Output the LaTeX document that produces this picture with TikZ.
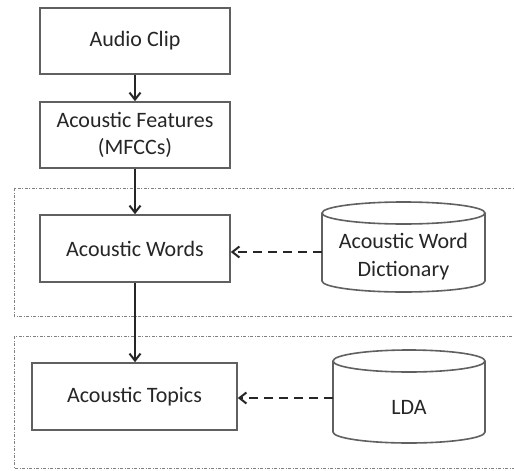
\documentclass[tikz,border=0pt]{standalone}
\usepackage{fontspec}
\setmainfont{Carlito}
\usetikzlibrary{arrows.meta}
\definecolor{boxline}{HTML}{606060}
\definecolor{txt}{HTML}{262626}
\definecolor{frameline}{HTML}{808080}
\tikzset{
  procbox/.style={draw=boxline, line width=1.6pt, fill=white, rectangle,
    text=txt, align=center, inner sep=0pt,
    font=\fontsize{22}{27}\selectfont},
  cyltext/.style={text=txt, align=center, inner sep=0pt,
    font=\fontsize{22}{28}\selectfont},
  cylline/.style={draw=boxline, line width=1.6pt},
  flow/.style={draw=black!85, line width=2pt, -{Straight Barb[length=7pt,width=11pt,line width=2pt]}},
  dflow/.style={draw=black!85, line width=2pt, dash pattern=on 9pt off 6pt,
    -{Straight Barb[length=7pt,width=11pt,line width=2pt]}},
  groupframe/.style={draw=frameline, line width=1pt,
    dash pattern=on 3pt off 1.5pt on 1pt off 1.5pt}
}
\begin{document}
\begin{tikzpicture}[x=1pt,y=1pt]
\clip (0,0) rectangle (514,-471);
\fill[white] (0,0) rectangle (514,-471);
% group frames
\draw[groupframe] (14,-188) rectangle (530,-316);
\draw[groupframe] (14,-336) rectangle (530,-468);
% process boxes
\node[procbox, minimum width=190pt, minimum height=66pt] (audio) at (135,-41) {Audio Clip};
\node[procbox, minimum width=190pt, minimum height=66pt] (feat) at (135,-135) {Acoustic Features\\(MFCCs)};
\node[procbox, minimum width=190pt, minimum height=67pt] (words) at (135,-248.5) {Acoustic Words};
\node[procbox, minimum width=205pt, minimum height=67pt] (topics) at (134.5,-396.5) {Acoustic Topics};
% cylinder 1: dictionary
\draw[cylline] (322,-213) -- (322,-281)
  arc[start angle=180, end angle=360, x radius=81.5pt, y radius=11pt]
  -- (485,-213);
\draw[cylline] (403.5,-213) ellipse[x radius=81.5pt, y radius=11pt];
\node[inner sep=0pt, minimum width=163pt, minimum height=68pt] (dict) at (403.5,-247) {};
\node[cyltext] (dicttext) at (403.5,-257) {Acoustic Word\\Dictionary};
% cylinder 2: LDA
\draw[cylline] (333,-361) -- (333,-432)
  arc[start angle=180, end angle=360, x radius=76pt, y radius=11pt]
  -- (485,-361);
\draw[cylline] (409,-361) ellipse[x radius=76pt, y radius=11pt];
\node[inner sep=0pt, minimum width=152pt, minimum height=71pt] (lda) at (409,-396.5) {};
\node[cyltext] (ldatext) at (409,-407) {LDA};
% connectors
\draw[flow] (audio.south) -- (feat.north);
\draw[flow] (feat.south) -- (words.north);
\draw[flow] (words.south) -- (topics.north -| words.south);
\draw[dflow] (dict.west |- 0,-252) -- (words.east |- 0,-252);
\draw[dflow] (lda.west |- 0,-398) -- (topics.east |- 0,-398);
\end{tikzpicture}
\end{document}
